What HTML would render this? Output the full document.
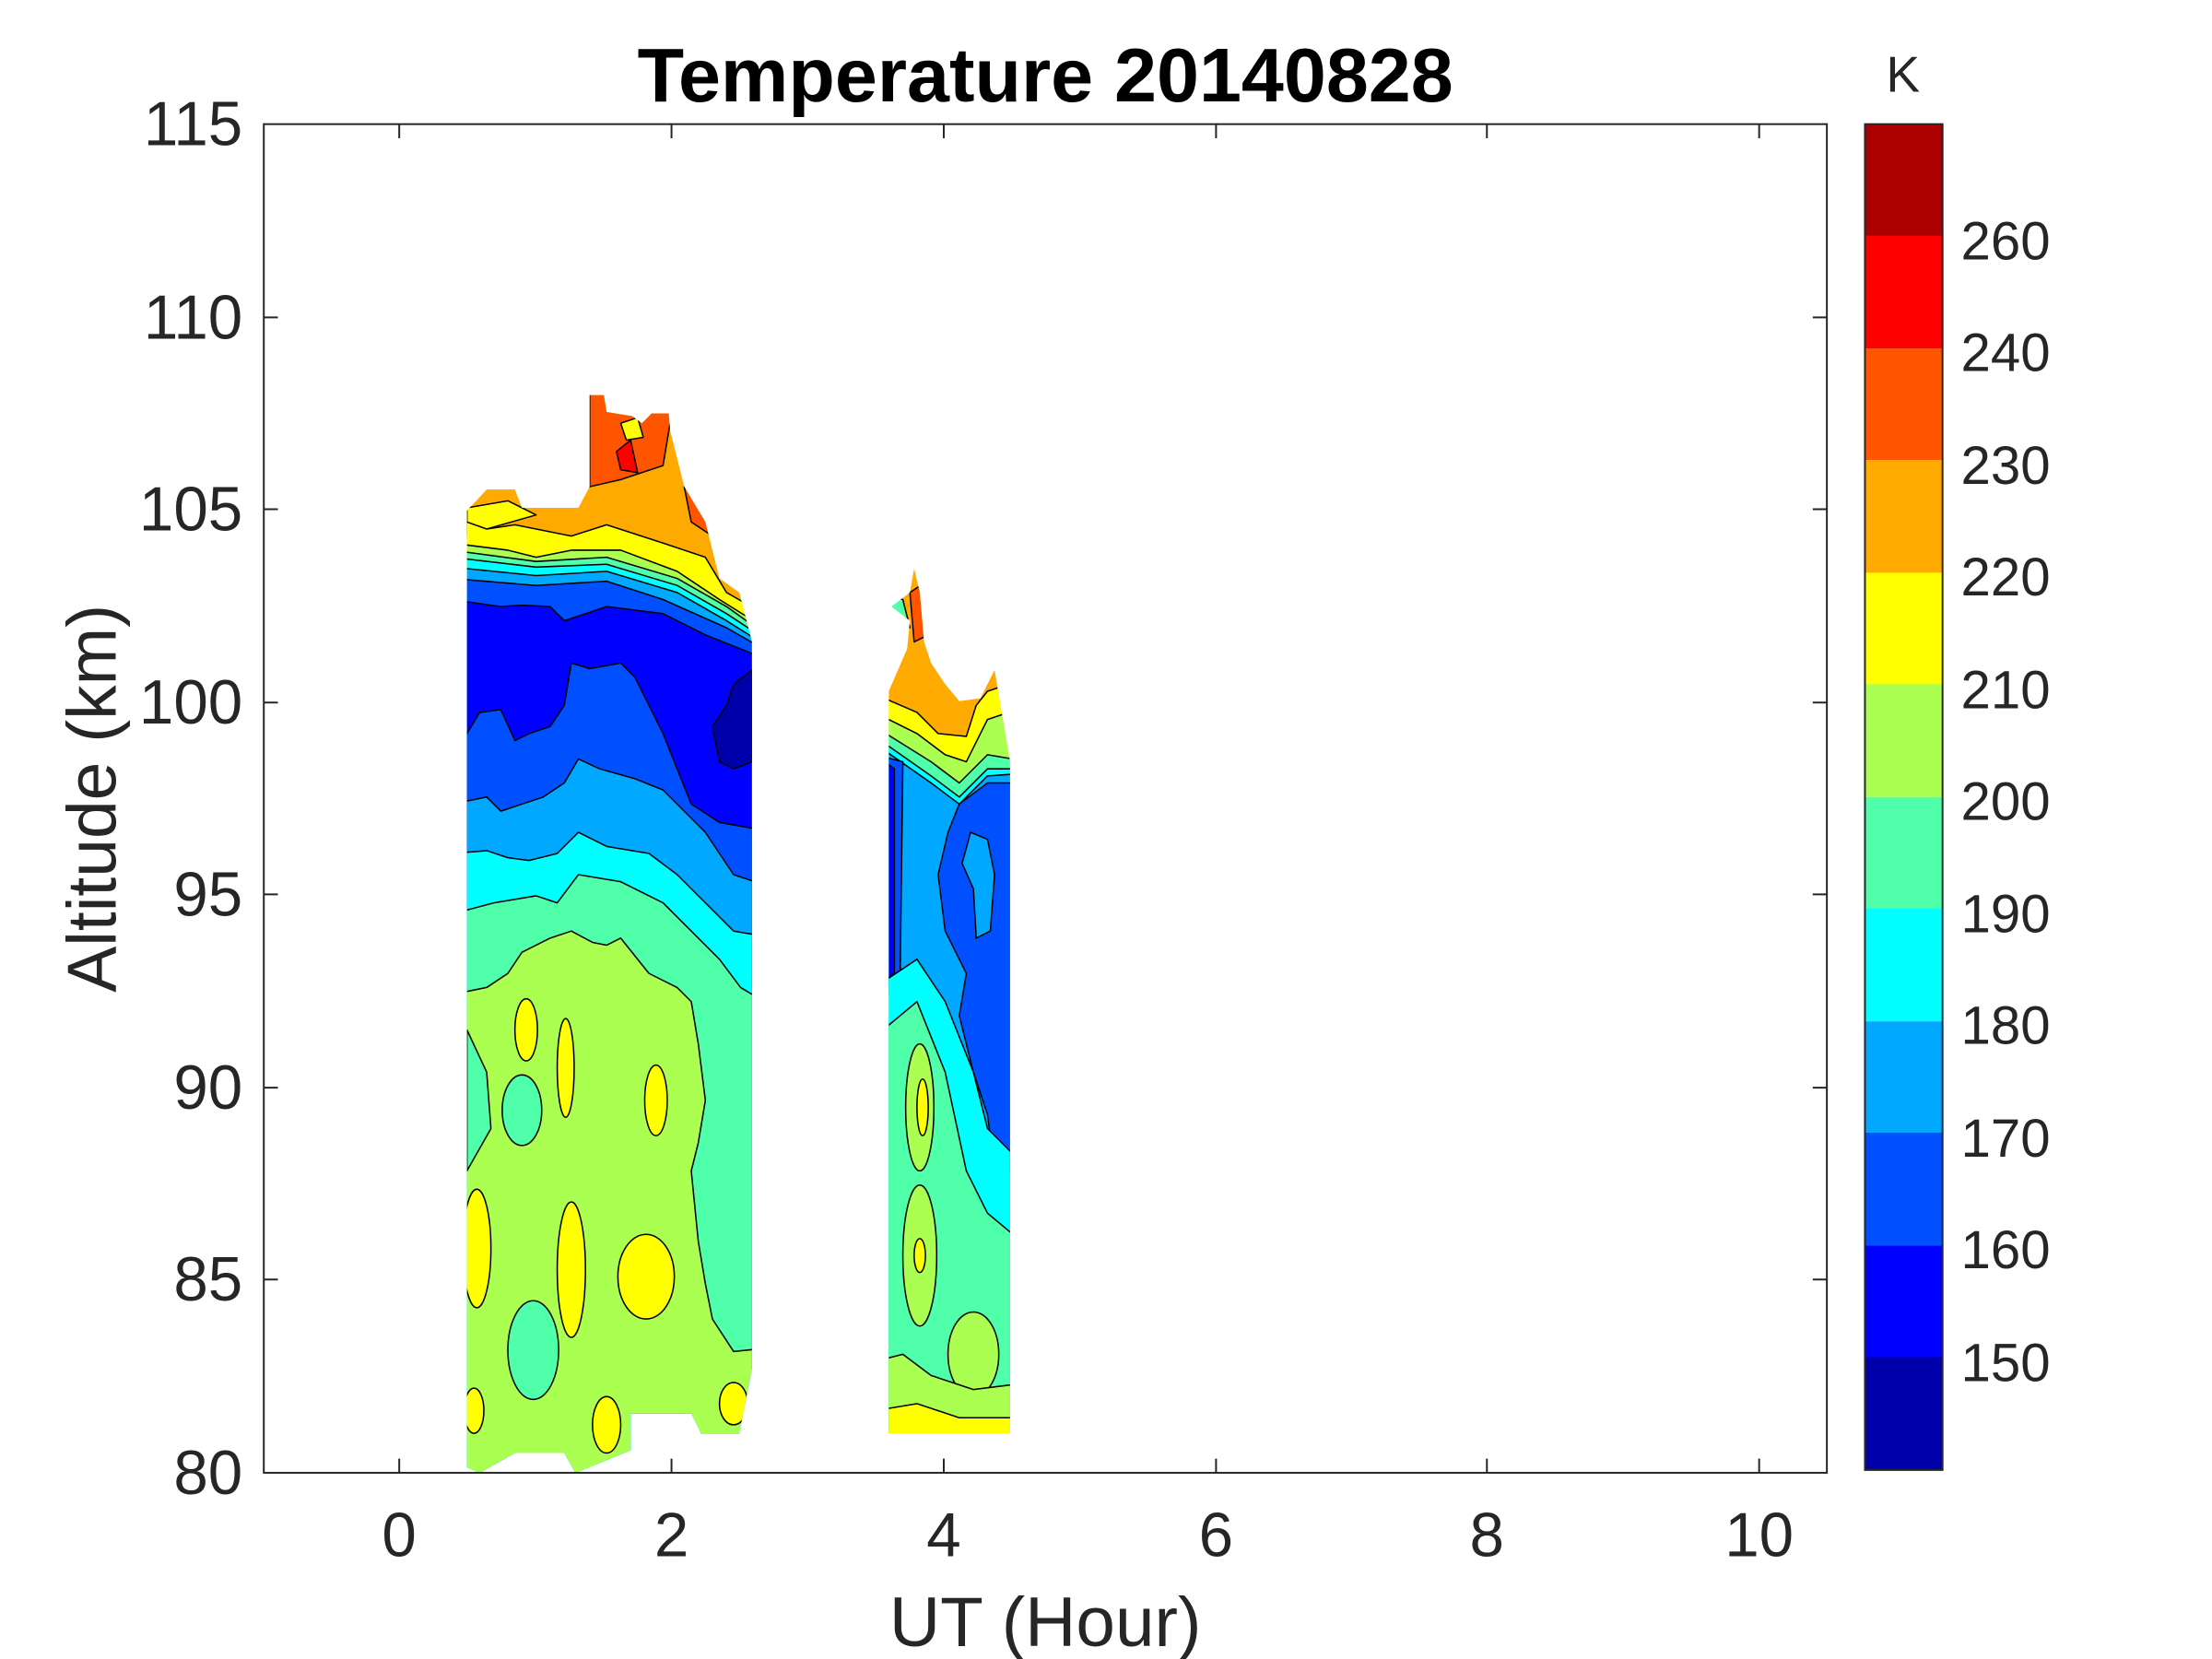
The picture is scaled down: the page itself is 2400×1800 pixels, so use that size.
<!DOCTYPE html>
<html><head><meta charset="utf-8"><style>html,body{margin:0;padding:0;background:#fff}svg{display:block}</style></head>
<body>
<svg width="2400" height="1800" viewBox="0 0 1568 1176" xmlns="http://www.w3.org/2000/svg" font-family="Liberation Sans, Arial, sans-serif">
<defs>
<clipPath id="cl"><polygon points="331,1040 340,1044 365,1030 400,1030 408,1044 447,1028 447,1002 490,1002 497,1016 524,1016 533,970 533,455 524,420 510,410 500,370 485,345 475,305 474,293 462,293 455,300 448,295 430,292 428,280 418,280 418,345 410,360 370,360 365,347 345,347 331,362"/></clipPath>
<clipPath id="cr"><polygon points="630,1016 716,1016 716,540 705,475 695,495 680,497 670,485 660,470 655,455 652,420 648,403 645,420 632,430 645,440 643,460 630,490"/></clipPath>
</defs>
<g stroke="#000" stroke-width="1" stroke-linejoin="round">
<g clip-path="url(#cl)">
<rect x="320" y="270" width="230" height="800" fill="#ffaa00"/>
<polygon fill="#ff5500" points="418,270 480,270 470,330 440,340 418,345"/>
<polygon fill="#ff0000" points="437,320 447,312 452,335 440,333"/>
<polygon fill="#ffff00" points="440,300 452,296 456,310 444,312"/>
<polygon fill="#ff5500" points="485,345 500,360 505,380 490,370"/>
<polygon fill="#ffff00" points="331,360 360,355 380,365 345,375 331,380"/>
<polygon fill="#ffff00" points="320,370 331,370 345,375 365,372 405,380 430,372 470,385 500,395 515,420 550,440 550,1100 320,1100"/>
<polygon fill="#aaff50" points="320,385 360,390 380,395 405,390 440,390 480,405 510,425 550,450 550,1100 320,1100"/>
<polygon fill="#50ffaa" points="320,390 380,398 430,395 480,410 515,430 550,455 550,1100 320,1100"/>
<polygon fill="#00ffff" points="320,395 380,402 430,400 480,415 515,435 550,458 550,1100 320,1100"/>
<polygon fill="#00a8ff" points="320,402 380,408 430,405 480,420 515,440 550,462 550,1100 320,1100"/>
<polygon fill="#0050ff" points="320,410 380,415 430,412 470,425 515,445 550,465 550,1100 320,1100"/>
<polygon fill="#0000ff" points="320,425 355,430 370,429 390,430 400,440 430,430 470,435 500,450 550,470 550,1100 320,1100"/>
<polygon fill="#0000aa" points="533,475 520,485 515,500 505,515 510,540 520,545 533,540"/>
<polygon fill="#0050ff" points="320,520 331,520 340,505 355,503 365,525 375,520 390,515 400,500 405,470 418,474 440,470 450,480 470,520 490,570 510,583 550,590 550,1100 320,1100"/>
<polygon fill="#00a8ff" points="320,570 345,565 355,575 370,570 385,565 400,555 410,538 425,545 450,552 470,560 500,590 520,620 550,630 550,1100 320,1100"/>
<polygon fill="#00ffff" points="320,605 345,603 360,608 375,610 395,605 410,590 430,600 460,605 480,620 500,640 520,660 550,665 550,1100 320,1100"/>
<polygon fill="#50ffaa" points="320,648 350,640 380,635 395,640 410,620 440,625 470,640 490,660 510,680 525,700 550,715 550,1100 320,1100"/>
<polygon fill="#aaff50" points="320,705 345,700 360,690 370,675 390,665 405,660 420,668 430,670 440,665 460,690 480,700 490,710 495,740 500,780 495,810 490,830 495,880 500,910 505,935 520,958 550,955 550,1100 320,1100"/>
<polygon fill="#50ffaa" points="331,730 345,760 348,800 331,830"/>
<ellipse fill="#ffff00" cx="373" cy="730" rx="8" ry="22"/>
<ellipse fill="#ffff00" cx="401" cy="757" rx="6" ry="35"/>
<ellipse fill="#ffff00" cx="465" cy="780" rx="8" ry="25"/>
<ellipse fill="#50ffaa" cx="370" cy="787" rx="14" ry="25"/>
<ellipse fill="#ffff00" cx="338" cy="885" rx="10" ry="42"/>
<ellipse fill="#ffff00" cx="405" cy="900" rx="10" ry="48"/>
<ellipse fill="#ffff00" cx="458" cy="905" rx="20" ry="30"/>
<ellipse fill="#50ffaa" cx="378" cy="957" rx="18" ry="35"/>
<ellipse fill="#ffff00" cx="336" cy="1000" rx="7" ry="16"/>
<ellipse fill="#ffff00" cx="520" cy="995" rx="10" ry="15"/>
<ellipse fill="#ffff00" cx="430" cy="1010" rx="10" ry="20"/>
</g>
<g clip-path="url(#cr)">
<rect x="620" y="395" width="110" height="630" fill="#ffaa00"/>
<polygon fill="#ff5500" points="645,420 660,410 658,450 648,455"/>
<polygon fill="#50ffaa" points="620,420 640,425 645,445"/>
<polygon fill="#ffff00" points="620,492 650,505 665,520 685,522 692,500 700,490 730,480 730,1100 620,1100"/>
<polygon fill="#aaff50" points="620,505 650,520 670,535 685,540 700,510 730,500 730,1100 620,1100"/>
<polygon fill="#50ffaa" points="620,515 660,540 680,555 700,535 730,540 730,1100 620,1100"/>
<polygon fill="#00ffff" points="620,522 660,550 680,565 700,545 730,545 730,1100 620,1100"/>
<polygon fill="#00a8ff" points="620,527 660,555 680,570 700,550 730,548 730,1100 620,1100"/>
<polygon fill="#0050ff" points="680,570 700,555 730,555 730,830 705,830 700,790 690,760 680,720 685,690 670,660 665,620 672,590"/>
<polygon fill="#00a8ff" points="688,590 700,595 705,620 702,660 692,665 690,630 682,612"/>
<polygon fill="#0050ff" points="620,535 640,540 638,700 620,710"/>
<polygon fill="#0000ff" points="620,535 634,545 634,690 620,700"/>
<polygon fill="#00ffff" points="620,700 650,680 670,710 690,760 700,800 730,830 730,1100 620,1100"/>
<polygon fill="#50ffaa" points="620,735 650,710 670,760 685,830 700,860 730,885 730,1100 620,1100"/>
<ellipse fill="#aaff50" cx="652" cy="785" rx="10" ry="45"/>
<ellipse fill="#ffff00" cx="654" cy="785" rx="4" ry="20"/>
<ellipse fill="#aaff50" cx="652" cy="890" rx="12" ry="50"/>
<ellipse fill="#ffff00" cx="652" cy="890" rx="4" ry="12"/>
<ellipse fill="#aaff50" cx="690" cy="960" rx="18" ry="30"/>
<polygon fill="#aaff50" points="620,965 640,960 660,975 690,985 730,980 730,1100 620,1100"/>
<polygon fill="#ffff00" points="620,1000 650,995 680,1005 730,1005 730,1100 620,1100"/>
</g>
</g>
<rect x="187" y="88" width="1108" height="956" fill="none" stroke="#262626" stroke-width="1.3"/>
<g stroke="#262626" stroke-width="1.3">
<path d="M283,1044v-10M476,1044v-10M669,1044v-10M862,1044v-10M1054,1044v-10M1247,1044v-10M283,88v10M476,88v10M669,88v10M862,88v10M1054,88v10M1247,88v10"/>
<path d="M187,907h10M187,771h10M187,634h10M187,498h10M187,361h10M187,225h10M1295,907h-10M1295,771h-10M1295,634h-10M1295,498h-10M1295,361h-10M1295,225h-10"/>
</g>
<g fill="#262626" font-size="44" text-anchor="end">
<text x="172" y="1059">80</text><text x="172" y="922">85</text><text x="172" y="786">90</text><text x="172" y="649">95</text><text x="172" y="513">100</text><text x="172" y="376">105</text><text x="172" y="240">110</text><text x="172" y="103">115</text>
</g>
<g fill="#262626" font-size="44" text-anchor="middle">
<text x="283" y="1103">0</text><text x="476" y="1103">2</text><text x="669" y="1103">4</text><text x="862" y="1103">6</text><text x="1054" y="1103">8</text><text x="1247" y="1103">10</text>
</g>
<text x="741" y="1167" font-size="50" text-anchor="middle" fill="#262626">UT (Hour)</text>
<text transform="translate(82,566) rotate(-90)" font-size="49" text-anchor="middle" fill="#262626">Altitude (km)</text>
<text x="741" y="72" font-size="54" font-weight="bold" text-anchor="middle" fill="#000">Temperature 20140828</text>
<g>
<rect x="1322" y="88" width="55" height="80" fill="#aa0000"/>
<rect x="1322" y="167" width="55" height="80" fill="#ff0000"/>
<rect x="1322" y="247" width="55" height="80" fill="#ff5500"/>
<rect x="1322" y="326" width="55" height="80" fill="#ffaa00"/>
<rect x="1322" y="406" width="55" height="80" fill="#ffff00"/>
<rect x="1322" y="485" width="55" height="80" fill="#aaff50"/>
<rect x="1322" y="565" width="55" height="80" fill="#50ffaa"/>
<rect x="1322" y="644" width="55" height="80" fill="#00ffff"/>
<rect x="1322" y="724" width="55" height="80" fill="#00a8ff"/>
<rect x="1322" y="803" width="55" height="80" fill="#0050ff"/>
<rect x="1322" y="883" width="55" height="80" fill="#0000ff"/>
<rect x="1322" y="962" width="55" height="80" fill="#0000aa"/>
<rect x="1322" y="88" width="55" height="954" fill="none" stroke="#262626" stroke-width="1.3"/>
</g>
<g fill="#262626" font-size="38">
<text x="1390" y="184">260</text><text x="1390" y="263">240</text><text x="1390" y="343">230</text><text x="1390" y="422">220</text><text x="1390" y="502">210</text><text x="1390" y="581">200</text><text x="1390" y="661">190</text><text x="1390" y="740">180</text><text x="1390" y="820">170</text><text x="1390" y="899">160</text><text x="1390" y="979">150</text>
</g>
<text x="1349" y="65" font-size="36" text-anchor="middle" fill="#262626">K</text>
</svg>
</body></html>
